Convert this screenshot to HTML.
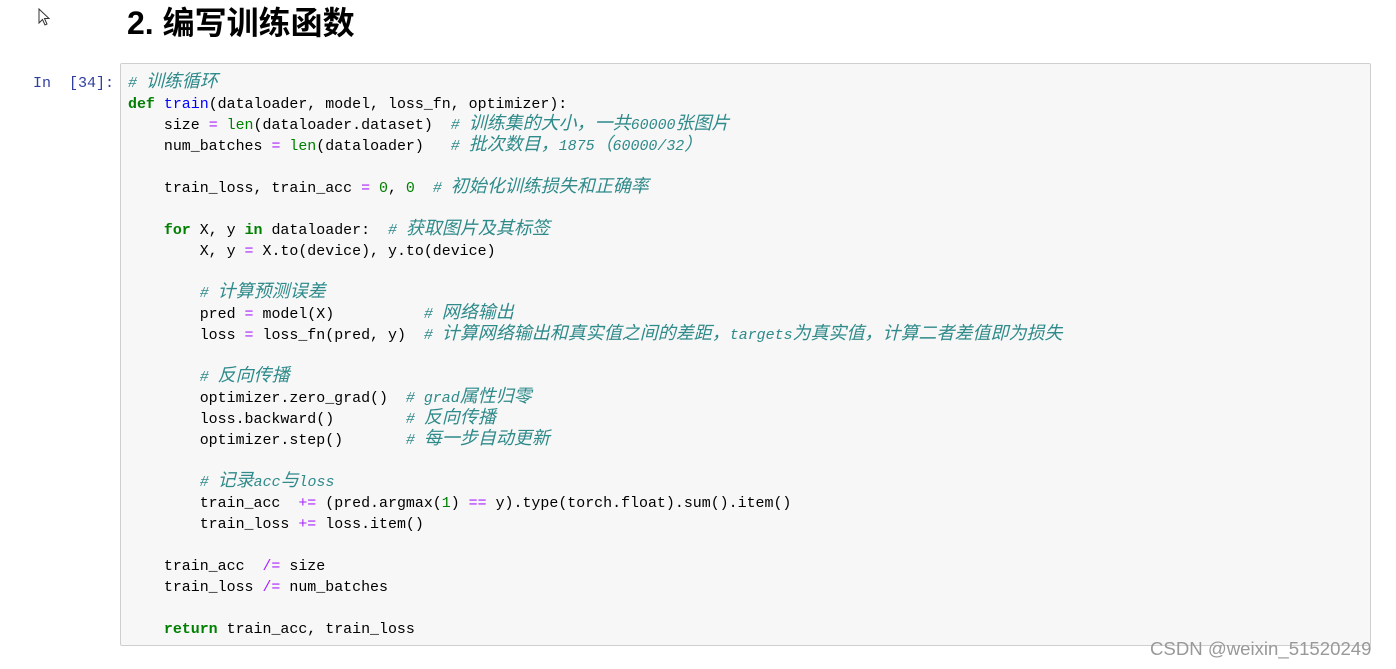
<!DOCTYPE html>
<html><head><meta charset="utf-8"><style>
body{margin:0;background:#fff;width:1396px;height:669px;overflow:hidden;position:relative;font-family:"Liberation Sans","Noto Sans CJK SC",sans-serif;}
h1{position:absolute;left:127px;top:1px;margin:0;font-size:32px;font-weight:bold;color:#000;line-height:44px;}
.prompt{position:absolute;left:33px;top:73px;font:15px/21px "Liberation Mono","Noto Sans CJK SC",monospace;color:#303F9F;}
.box{position:absolute;left:120px;top:63px;width:1249px;height:581px;background:#f7f7f7;border:1px solid #cfcfcf;border-radius:2px;}
pre{position:absolute;left:7px;top:10px;margin:0;font:14.95px/21px "Liberation Mono","Noto Sans CJK SC",monospace;color:#000;}
.z{font-size:18px;line-height:0}
.c{color:#2f8a8a;font-style:italic}
.k{color:#008000;font-weight:bold}
.b{color:#008000}
.o{color:#AA22FF}
.n{color:#008000}
.f{color:#0000FF}
.wm{position:absolute;left:1150px;top:638px;font-size:18.6px;color:#999;}
</style></head><body>
<svg style="position:absolute;left:38px;top:8px" width="14" height="20"><path d="M1 1 L1 15 L4.5 11.5 L7 17 L9 16 L6.5 10.5 L11 10.5 Z" fill="#fff" stroke="#333" stroke-width="1"/></svg>
<h1>2. 编写训练函数</h1>
<div class="prompt">In&nbsp;&nbsp;[34]:</div>
<div class="box"><pre><span class="c"># <span class="z">训练循环</span></span>
<span class="k">def</span> <span class="f">train</span>(dataloader, model, loss_fn, optimizer):
    size <span class="o">=</span> <span class="b">len</span>(dataloader.dataset)  <span class="c"># <span class="z">训练集的大小，一共</span>60000<span class="z">张图片</span></span>
    num_batches <span class="o">=</span> <span class="b">len</span>(dataloader)   <span class="c"># <span class="z">批次数目，</span>1875<span class="z">（</span>60000/32<span class="z">）</span></span>

    train_loss, train_acc <span class="o">=</span> <span class="n">0</span>, <span class="n">0</span>  <span class="c"># <span class="z">初始化训练损失和正确率</span></span>

    <span class="k">for</span> X, y <span class="k">in</span> dataloader:  <span class="c"># <span class="z">获取图片及其标签</span></span>
        X, y <span class="o">=</span> X.to(device), y.to(device)

        <span class="c"># <span class="z">计算预测误差</span></span>
        pred <span class="o">=</span> model(X)          <span class="c"># <span class="z">网络输出</span></span>
        loss <span class="o">=</span> loss_fn(pred, y)  <span class="c"># <span class="z">计算网络输出和真实值之间的差距，</span>targets<span class="z">为真实值，计算二者差值即为损失</span></span>

        <span class="c"># <span class="z">反向传播</span></span>
        optimizer.zero_grad()  <span class="c"># grad<span class="z">属性归零</span></span>
        loss.backward()        <span class="c"># <span class="z">反向传播</span></span>
        optimizer.step()       <span class="c"># <span class="z">每一步自动更新</span></span>

        <span class="c"># <span class="z">记录</span>acc<span class="z">与</span>loss</span>
        train_acc  <span class="o">+=</span> (pred.argmax(<span class="n">1</span>) <span class="o">==</span> y).type(torch.float).sum().item()
        train_loss <span class="o">+=</span> loss.item()

    train_acc  <span class="o">/=</span> size
    train_loss <span class="o">/=</span> num_batches

    <span class="k">return</span> train_acc, train_loss</pre></div>
<div class="wm">CSDN @weixin_51520249</div>
</body></html>
